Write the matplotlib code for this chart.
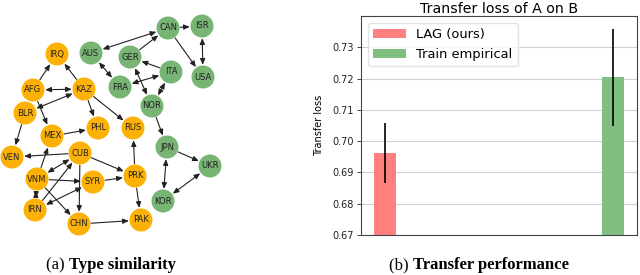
import matplotlib
matplotlib.use("Agg")
import matplotlib.pyplot as plt
from matplotlib.patches import Circle

# ---------------- data ----------------
node_names = ["CAN", "ISR", "AUS", "GER", "ITA", "USA", "FRA", "NOR", "JPN", "UKR", "KOR",
              "IRQ", "AFG", "KAZ", "BLR", "PHL", "RUS", "MEX", "VEN", "CUB", "VNM", "SYR",
              "PRK", "IRN", "CHN", "PAK"]
node_x = [168, 202, 91, 130, 171, 203, 120, 152, 167, 210, 163,
          57, 33, 84, 25, 98, 133, 52, 12, 80, 37, 93,
          135, 35, 79, 141]
node_y = [28, 26, 53, 57, 72, 77, 87, 106, 147, 166, 201,
          54, 90, 89, 113, 128, 128, 136, 157, 153, 179, 182,
          176, 210, 224, 220]
node_group = ["g"] * 11 + ["o"] * 15

# (source, target, both directions?)
edge_src = ["CAN", "CAN", "CAN", "ISR", "GER", "ITA", "ITA", "AUS", "GER", "ITA", "NOR",
            "JPN", "JPN", "KOR", "AFG", "KAZ", "AFG", "BLR", "KAZ", "KAZ", "AFG", "MEX",
            "BLR", "CUB", "VNM", "CUB", "IRN", "SYR", "VNM", "VNM", "VNM", "CUB", "CUB",
            "SYR", "PRK", "PRK", "CHN"]
edge_dst = ["AUS", "ISR", "USA", "USA", "CAN", "GER", "FRA", "FRA", "NOR", "NOR", "JPN",
            "UKR", "KOR", "UKR", "IRQ", "IRQ", "KAZ", "KAZ", "PHL", "RUS", "MEX", "PHL",
            "VEN", "VEN", "MEX", "VNM", "CUB", "IRN", "SYR", "IRN", "CHN", "CHN", "PRK",
            "PRK", "RUS", "PAK", "PAK"]
edge_both = [True, False, False, True, False, False, True, True, True, True, False,
             False, True, True, False, False, True, True, False, False, False, False,
             False, False, False, True, False, True, False, True, False, False, False,
             False, False, False, False]

methods = ["LAG (ours)", "Train empirical"]
loss_mean = [0.6963, 0.7204]
loss_err = [0.0096, 0.0156]
bar_colors = ["#ff8080", "#80bf80"]
yticks = [0.67, 0.68, 0.69, 0.70, 0.71, 0.72, 0.73]

GREEN = "#78b474"
ORANGE = "#fdb104"

fig = plt.figure(figsize=(6.4, 2.75), dpi=100)

# ---------------- graph panel ----------------
W, H = 640, 275
axg = fig.add_axes([0, 0, 1, 1])
axg.set_xlim(0, W)
axg.set_ylim(H, 0)
axg.axis("off")

pos = {n: (x, y) for n, x, y in zip(node_names, node_x, node_y)}
r = 11.5
shrink_pt = r * 72 / 100 + 0.5
for s, d, b in zip(edge_src, edge_dst, edge_both):
    style = "<|-|>" if b else "-|>"
    axg.annotate("", xy=pos[d], xytext=pos[s],
                 arrowprops=dict(arrowstyle=style + ",head_length=0.35,head_width=0.15",
                                 color="#222222", lw=0.8, mutation_scale=10,
                                 shrinkA=shrink_pt, shrinkB=shrink_pt), zorder=1)
for n, g in zip(node_names, node_group):
    c = GREEN if g == "g" else ORANGE
    axg.add_patch(Circle(pos[n], r, facecolor=c, edgecolor="none", zorder=2))
    axg.text(pos[n][0], pos[n][1], n, ha="center", va="center", fontsize=6,
             color="#222222", zorder=3)

# ---------------- bar panel ----------------
ax = fig.add_axes([361 / 640, 1 - 235 / 275, (637 - 361) / 640, (235 - 16) / 275])
xs = list(range(len(methods)))
for i in xs:
    ax.bar(xs[i], loss_mean[i], width=0.1, color=bar_colors[i], label=methods[i], zorder=2)
    ax.errorbar(xs[i], loss_mean[i], yerr=loss_err[i], color="black", lw=1.2,
                capsize=0, zorder=3)
ax.set_ylim(0.67, 0.74)
ax.set_yticks(yticks)
ax.set_yticklabels([f"{v:.2f}" for v in yticks], fontsize=7)
ax.set_xticks([])
ax.yaxis.grid(True, color="#d0d0d0", lw=0.8, zorder=0)
ax.set_axisbelow(True)
for sp in ax.spines.values():
    sp.set_color("#444444")
    sp.set_linewidth(0.8)
ax.tick_params(axis="y", length=3, width=0.6, pad=2, colors="#222222")
ax.set_ylabel("Transfer loss", fontsize=7, labelpad=6)
ax.set_title("Transfer loss of A on B", fontsize=10.2, pad=1.5)
ax.legend(loc="upper left", fontsize=9.4, framealpha=0.8, handlelength=2.5,
          borderaxespad=0.55, edgecolor="#dddddd")

# ---------------- captions ----------------
renderer = fig.canvas.get_renderer()


def caption(cx, cy, a, b):
    t1 = fig.text(0, 0, a, fontsize=12, family="Liberation Serif")
    t2 = fig.text(0, 0, b, fontsize=12, family="Liberation Serif", weight="bold")
    w1 = t1.get_window_extent(renderer).width
    w2 = t2.get_window_extent(renderer).width
    x0 = cx - (w1 + w2) / 2
    t1.set_position((x0 / W, 1 - cy / H))
    t2.set_position(((x0 + w1) / W, 1 - cy / H))
    t1.set_va("center")
    t2.set_va("center")


caption(111, 265, "(a) ", "Type similarity")
caption(479, 265, "(b) ", "Transfer performance")

fig.savefig("out.png", dpi=100)
